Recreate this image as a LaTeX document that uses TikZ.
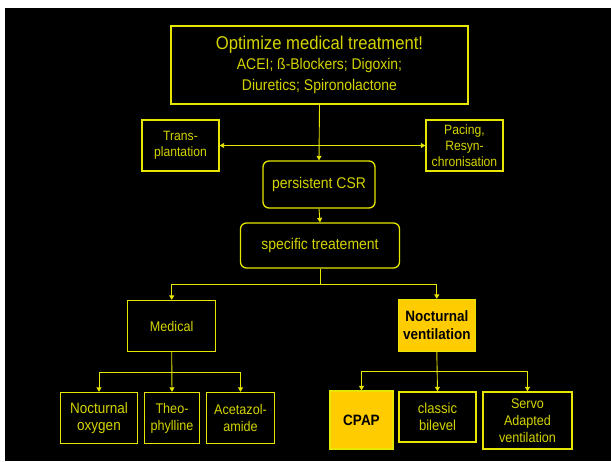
\documentclass[tikz,border=0pt]{standalone}
\usepackage{fontspec}
\setmainfont{Liberation Sans}[FakeStretch=0.9]
\usetikzlibrary{arrows.meta,positioning}

\definecolor{lineyel}{RGB}{230,230,0}
\definecolor{textyel}{RGB}{212,212,0}
\definecolor{fillyel}{RGB}{255,204,0}

\tikzset{
    box/.style={draw=lineyel, line width=1.3pt, text=textyel, align=center,
        inner sep=0pt, font=\fontsize{14}{17}\selectfont},
    roundbox/.style={box, rounded corners=6pt,
        font=\fontsize{15.5}{18}\selectfont},
    sidebox/.style={box, minimum width=77, minimum height=51,
        font=\fontsize{13.5}{16.3}\selectfont},
    hibox/.style={box, fill=fillyel, text=black,
        font=\fontsize{15}{18}\selectfont\bfseries},
    link/.style={draw=lineyel, line width=0.9pt,
        -{Triangle[length=4.5pt,width=5pt]}},
}

\begin{document}
\begin{tikzpicture}[x=1pt, y=-1pt]
    \useasboundingbox (0,0) rectangle (611,461);
    \fill[black] (5,8) rectangle (611,461);

    % top of the tree
    \node[box, minimum width=297, minimum height=78,
          font=\fontsize{15.5}{19}\selectfont] (optim) at (319.5,65)
        {{\fontsize{18.5}{22}\selectfont Optimize medical treatment!}\\[1pt]
         ACEI; \ss-Blockers; Digoxin;\\[2pt] Diuretics; Spironolactone};
    \node[sidebox] (trans) at (180.5,145.5) {Trans-\\plantation};
    \node[sidebox] (pacing) at (464.5,145.5) {Pacing,\\Resyn-\\chronisation};
    \node[roundbox, minimum width=112, minimum height=47] (csr) at (319,184.5)
        {persistent CSR};
    \node[roundbox, minimum width=159, minimum height=45] (spec) at (320,245.5)
        {specific treatement};

    % two branches
    \node[box, minimum width=88, minimum height=51] (medical) at (171.7,326)
        {Medical};
    \node[hibox, minimum width=77, minimum height=52] (noctvent) at (436.8,325.5)
        {Nocturnal\\ventilation};

    \node[box, minimum width=77, minimum height=51,
          font=\fontsize{15}{17.5}\selectfont] (oxygen) at (99,418)
        {Nocturnal\\oxygen};
    \node[box, minimum width=55, minimum height=51] (theo) at (172,418)
        {Theo-\\phylline};
    \node[box, minimum width=68.5, minimum height=51] (aceta) at (240.5,418)
        {Acetazol-\\amide};

    \node[hibox, minimum width=63, minimum height=58] (cpap) at (361.5,420)
        {CPAP};
    \node[box, minimum width=77, minimum height=50,
          font=\fontsize{14.5}{17}\selectfont] (classic) at (437.5,417)
        {classic\\bilevel};
    \node[box, minimum width=89, minimum height=57] (servo) at (527.5,420.5)
        {Servo\\Adapted\\ventilation};

    % junction points
    \coordinate (splitA) at (320,284);
    \coordinate (splitB) at (171.7,372);
    \coordinate (splitC) at (436.8,371);

    \draw[link] (optim.south) -- (csr.north);
    \draw[link, {Triangle[length=4.5pt,width=5pt]}-{Triangle[length=4.5pt,width=5pt]}]
        (trans) -- (pacing);
    \draw[link] (csr.south) -- (spec.north);

    \draw[link] (spec.south) -- (splitA) -| (medical.north);
    \draw[link] (splitA) -| (noctvent.north);

    \draw[link] (medical.south) -- (theo.north);
    \draw[link] (splitB) -| (oxygen.north);
    \draw[link] (splitB) -| (aceta.north);

    \draw[link] (noctvent.south) -- (classic.north);
    \draw[link] (splitC) -| (cpap.north);
    \draw[link] (splitC) -| (servo.north);
\end{tikzpicture}
\end{document}
